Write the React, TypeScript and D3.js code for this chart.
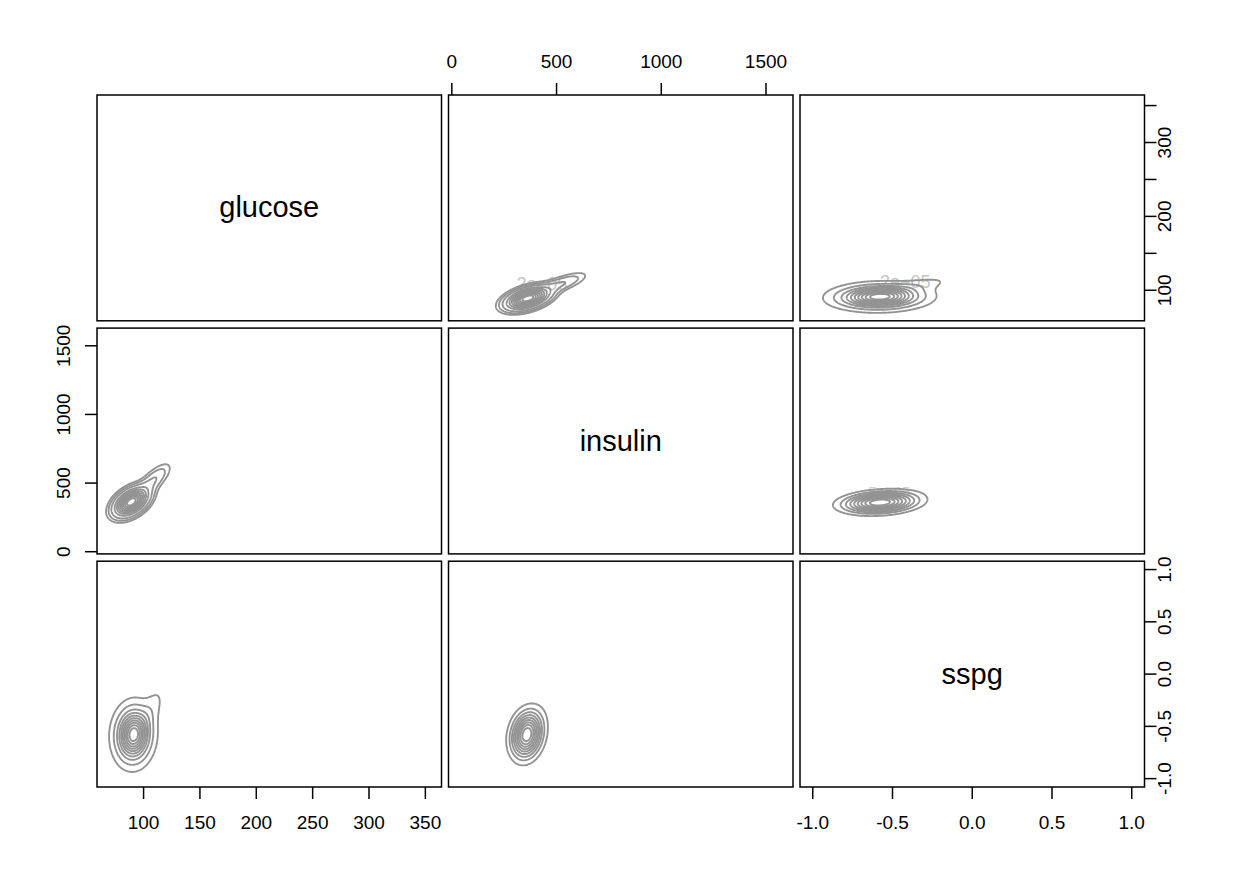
import React from "react";
import * as d3 from "d3";

// ---- data ----
const variables = ["glucose", "insulin", "sspg"];
const dataRanges: [number, number][] = [
  [70, 353],
  [45, 1568],
  [-1, 1],
];
const glucoseTicks = [100, 150, 200, 250, 300, 350];
const glucoseRightLabels = [100, 200, 300];
const insulinTicks = [0, 500, 1000, 1500];
const sspgTicks = [-1, -0.5, 0, 0.5, 1];
const sspgTickLabels = ["-1.0", "-0.5", "0.0", "0.5", "1.0"];

// bivariate density components: [meanX, meanY, sdX, sdY, rho, weight]
// x = first variable of the pair, y = second
const glucoseInsulinComponents = [
  [89, 362, 8.2, 56, 0.45, 1],
  [108, 515, 9, 72, 0.75, 0.11],
];
const glucoseSspgComponents = [
  [91, -0.58, 8.2, 0.135, 0.05, 1],
  [102, -0.42, 9, 0.16, 0.75, 0.065],
];
const insulinSspgComponents = [
  [358, -0.58, 46, 0.137, 0.18, 1],
  [420, -0.4, 50, 0.15, 0.4, 0.03],
];
const glucoseInsulinLevels = [0.025, 0.05, 0.1, 0.2, 0.3, 0.4, 0.5, 0.6, 0.7, 0.8, 0.9];
const glucoseSspgLevels = [0.03, 0.1, 0.2, 0.3, 0.4, 0.5, 0.6, 0.7, 0.8, 0.9];
const insulinSspgLevels = [0.1, 0.2, 0.3, 0.4, 0.5, 0.6, 0.7, 0.8, 0.9];

const contourLabelText = ["2e\u221205", "2e\u221205", "5e\u221205"];

// ---- layout ----
const W = 1240;
const H = 886;
const left = 97;
const top = 95;
const pw = 344.5;
const ph = 225.8;
const gapX = 7;
const gapY = 7.3;
const font = "'Liberation Sans', Arial, Helvetica, sans-serif";
const lineCol = "#939393";

const ext = (r: [number, number]): [number, number] => {
  const d = r[1] - r[0];
  return [r[0] - 0.04 * d, r[1] + 0.04 * d];
};
const colX = (c: number) => left + c * (pw + gapX);
const rowY = (r: number) => top + r * (ph + gapY);
const xScale = (v: number, c: number) =>
  d3.scaleLinear().domain(ext(dataRanges[v])).range([colX(c), colX(c) + pw]);
const yScale = (v: number, r: number) =>
  d3.scaleLinear().domain(ext(dataRanges[v])).range([rowY(r) + ph, rowY(r)]);

function density(comps: number[][], x: number, y: number) {
  let s = 0;
  for (const [mx, my, sx, sy, rho, w] of comps) {
    const zx = (x - mx) / sx;
    const zy = (y - my) / sy;
    const q = (zx * zx - 2 * rho * zx * zy + zy * zy) / (1 - rho * rho);
    s += (w / (2 * Math.PI * sx * sy * Math.sqrt(1 - rho * rho))) * Math.exp(-q / 2);
  }
  return s;
}

function contourPaths(
  comps0: number[][],
  levels: number[],
  transpose: boolean,
  xs: d3.ScaleLinear<number, number>,
  ys: d3.ScaleLinear<number, number>
) {
  const comps = transpose
    ? comps0.map(([mx, my, sx, sy, rho, w]) => [my, mx, sy, sx, rho, w])
    : comps0;
  const xd = xs.domain();
  const yd = ys.domain();
  const x0 = Math.max(xd[0], d3.min(comps, (c) => c[0] - 6 * c[2])!);
  const x1 = Math.min(xd[1], d3.max(comps, (c) => c[0] + 6 * c[2])!);
  const y0 = Math.max(yd[0], d3.min(comps, (c) => c[1] - 6 * c[3])!);
  const y1 = Math.min(yd[1], d3.max(comps, (c) => c[1] + 6 * c[3])!);
  const n = 260;
  const m = 260;
  const vals = new Array(n * m);
  let mx = 0;
  for (let j = 0; j < m; j++) {
    const y = y0 + ((j + 0.5) / m) * (y1 - y0);
    for (let i = 0; i < n; i++) {
      const x = x0 + ((i + 0.5) / n) * (x1 - x0);
      const v = density(comps, x, y);
      vals[i + j * n] = v;
      if (v > mx) mx = v;
    }
  }
  const thresholds = levels.map((l) => l * mx);
  const cs = d3.contours().size([n, m]).thresholds(thresholds)(vals);
  const proj = d3.geoTransform({
    point(gx: number, gy: number) {
      // @ts-ignore
      this.stream.point(xs(x0 + (gx / n) * (x1 - x0)), ys(y0 + (gy / m) * (y1 - y0)));
    },
  });
  const path = d3.geoPath(proj);
  return cs.map((c) => path(c as any) || "");
}

export default function App() {
  const panels: React.ReactNode[] = [];
  const pairComps = (a: number, b: number) => {
    const key = [Math.min(a, b), Math.max(a, b)].join("-");
    const base =
      key === "0-1"
        ? glucoseInsulinComponents
        : key === "0-2"
        ? glucoseSspgComponents
        : insulinSspgComponents;
    const lv =
      key === "0-1" ? glucoseInsulinLevels : key === "0-2" ? glucoseSspgLevels : insulinSspgLevels;
    return { base, lv, transpose: a > b };
  };

  for (let r = 0; r < 3; r++) {
    for (let c = 0; c < 3; c++) {
      const x = colX(c);
      const y = rowY(r);
      if (r === c) {
        panels.push(
          <text
            key={`lab${r}`}
            x={x + pw / 2}
            y={y + ph / 2}
            dy="0.33em"
            textAnchor="middle"
            fontFamily={font}
            fontSize={29}
            fill="#000"
          >
            {variables[r]}
          </text>
        );
      } else {
        const xs = xScale(c, c);
        const ys = yScale(r, r);
        const { base, lv, transpose } = pairComps(c, r);
        const paths = contourPaths(base, lv, transpose, xs, ys);
        panels.push(
          <g key={`p${r}${c}`}>
            {paths.map((d, k) => (
              <path key={k} d={d} fill="none" stroke={lineCol} strokeWidth={1.9} />
            ))}
          </g>
        );
      }
    }
  }

  // contour labels (upper panels)
  const labels: React.ReactNode[] = [];
  {
    const xs = xScale(1, 1);
    const ys = yScale(0, 0);
    labels.push(
      <text key="cl1" x={xs(430)} y={ys(101)} textAnchor="middle" fontFamily={font} fontSize={18} fill="#c4c4c4">
        {contourLabelText[0]}
      </text>
    );
    const xs2 = xScale(2, 2);
    labels.push(
      <text key="cl2" x={xs2(-0.42)} y={ys(103)} textAnchor="middle" fontFamily={font} fontSize={18} fill="#c4c4c4">
        {contourLabelText[1]}
      </text>
    );
    const ys3 = yScale(1, 1);
    labels.push(
      <text key="cl3" x={xs2(-0.52)} y={ys3(395)} textAnchor="middle" fontFamily={font} fontSize={15} fill="#d0d0d0">
        {contourLabelText[2]}
      </text>
    );
  }

  // frames
  const frames: React.ReactNode[] = [];
  for (let r = 0; r < 3; r++)
    for (let c = 0; c < 3; c++)
      frames.push(
        <rect key={`f${r}${c}`} x={colX(c)} y={rowY(r)} width={pw} height={ph} fill="none" stroke="#000" strokeWidth={1.5} />
      );

  const tl = 12;
  const fs = 19;
  const axes: React.ReactNode[] = [];
  // top axis: insulin on column 2
  {
    const s = xScale(1, 1);
    const y0 = rowY(0);
    insulinTicks.forEach((t) => {
      axes.push(<line key={`ta${t}`} x1={s(t)} x2={s(t)} y1={y0} y2={y0 - tl} stroke="#000" strokeWidth={1.5} />);
      axes.push(
        <text key={`tat${t}`} x={s(t)} y={y0 - 27} textAnchor="middle" fontFamily={font} fontSize={fs}>
          {t}
        </text>
      );
    });
  }
  // bottom axes: glucose col 1, sspg col 3
  {
    const s = xScale(0, 0);
    const y0 = rowY(2) + ph;
    glucoseTicks.forEach((t) => {
      axes.push(<line key={`ba${t}`} x1={s(t)} x2={s(t)} y1={y0} y2={y0 + tl} stroke="#000" strokeWidth={1.5} />);
      axes.push(
        <text key={`bat${t}`} x={s(t)} y={y0 + 42} textAnchor="middle" fontFamily={font} fontSize={fs}>
          {t}
        </text>
      );
    });
    const s2 = xScale(2, 2);
    sspgTicks.forEach((t, i) => {
      axes.push(<line key={`bs${t}`} x1={s2(t)} x2={s2(t)} y1={y0} y2={y0 + tl} stroke="#000" strokeWidth={1.5} />);
      axes.push(
        <text key={`bst${t}`} x={s2(t)} y={y0 + 42} textAnchor="middle" fontFamily={font} fontSize={fs}>
          {sspgTickLabels[i]}
        </text>
      );
    });
  }
  // left axis: insulin row 2
  {
    const s = yScale(1, 1);
    const x0 = colX(0);
    insulinTicks.forEach((t) => {
      axes.push(<line key={`la${t}`} x1={x0} x2={x0 - tl} y1={s(t)} y2={s(t)} stroke="#000" strokeWidth={1.5} />);
      axes.push(
        <text
          key={`lat${t}`}
          x={x0 - 27}
          y={s(t)}
          textAnchor="middle"
          fontFamily={font}
          fontSize={fs}
          transform={`rotate(-90, ${x0 - 27}, ${s(t)})`}
        >
          {t}
        </text>
      );
    });
  }
  // right axes: glucose row 1, sspg row 3
  {
    const x0 = colX(2) + pw;
    const s = yScale(0, 0);
    glucoseTicks.forEach((t) => {
      axes.push(<line key={`ra${t}`} x1={x0} x2={x0 + tl} y1={s(t)} y2={s(t)} stroke="#000" strokeWidth={1.5} />);
      if (glucoseRightLabels.includes(t))
        axes.push(
          <text
            key={`rat${t}`}
            x={x0 + 27}
            y={s(t)}
            textAnchor="middle"
            fontFamily={font}
            fontSize={fs}
            transform={`rotate(-90, ${x0 + 27}, ${s(t)})`}
          >
            {t}
          </text>
        );
    });
    const s3 = yScale(2, 2);
    sspgTicks.forEach((t, i) => {
      axes.push(<line key={`rs${t}`} x1={x0} x2={x0 + tl} y1={s3(t)} y2={s3(t)} stroke="#000" strokeWidth={1.5} />);
      axes.push(
        <text
          key={`rst${t}`}
          x={x0 + 27}
          y={s3(t)}
          textAnchor="middle"
          fontFamily={font}
          fontSize={fs}
          transform={`rotate(-90, ${x0 + 27}, ${s3(t)})`}
        >
          {sspgTickLabels[i]}
        </text>
      );
    });
  }

  return (
    <svg
      width={W}
      height={H}
      viewBox={`0 0 ${W} ${H}`}
      style={{ position: "absolute", left: 0, top: 0, background: "#fff", display: "block" }}
    >
      <rect x={0} y={0} width={W} height={H} fill="#fff" />
      {labels}
      {panels}
      {frames}
      {axes}
    </svg>
  );
}
